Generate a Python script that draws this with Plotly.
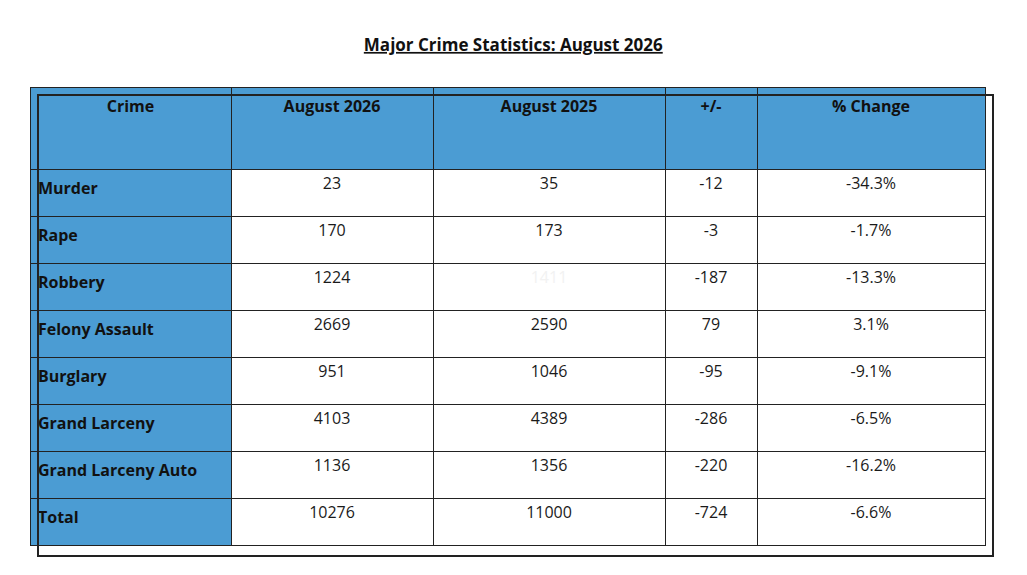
import plotly.graph_objects as go

headers = ["Crime", "August 2026", "August 2025", "+/-", "% Change"]
crimes = ["Murder", "Rape", "Robbery", "Felony Assault", "Burglary",
          "Grand Larceny", "Grand Larceny Auto", "Total"]
aug_2026 = [23, 170, 1224, 2669, 951, 4103, 1136, 10276]
aug_2025 = [35, 173, 1411, 2590, 1046, 4389, 1356, 11000]
diff = [-12, -3, -187, 79, -95, -286, -220, -724]
pct = ["-34.3%", "-1.7%", "-13.3%", "3.1%", "-9.1%", "-6.5%", "-16.2%", "-6.6%"]

blue = "#4b9cd3"
font = "Open Sans, Liberation Sans, sans-serif"

# robbery 2025 value is almost invisible in the source
col3_colors = ["#1a1a1a"] * len(crimes)
col3_colors[2] = "#f2f2f2"

# plotly draws the table ~8px right/down of the domain, so compensate
x0, x1 = 22 / 1027, 977 / 1027
y0, y1 = 1 - 540 / 575, 1 - 79 / 575

fig = go.Figure(go.Table(
    domain=dict(x=[x0, x1], y=[y0, y1]),
    columnwidth=[201, 202, 232, 92, 228],
    header=dict(
        values=[f"<br><b>{h}</b>" for h in headers],
        fill_color=blue,
        line=dict(color="#222", width=1),
        align="center",
        height=82,
        font=dict(family=font, size=16, color="#111"),
    ),
    cells=dict(
        values=[[f"<b>{c}</b>" for c in crimes], aug_2026, aug_2025, diff, pct],
        fill_color=[[blue] * len(crimes)] + [["white"] * len(crimes)] * 4,
        line=dict(color="#222", width=1),
        align=["left", "center", "center", "center", "center"],
        height=47,
        font=dict(family=font, size=16,
                  color=[["#111"] * len(crimes), ["#1a1a1a"] * len(crimes),
                         col3_colors, ["#1a1a1a"] * len(crimes), ["#1a1a1a"] * len(crimes)]),
    ),
))

fig.add_shape(type="rect", xref="paper", yref="paper",
              x0=30 / 1027, x1=985 / 1027, y0=1 - 548 / 575, y1=1 - 87 / 575,
              line=dict(color="#222", width=2))

fig.update_layout(
    width=1027, height=575,
    margin=dict(l=0, r=0, t=0, b=0),
    paper_bgcolor="white",
    title=dict(text="<b><u>Major Crime Statistics: August 2026</u></b>",
               x=0.492, xanchor="center", y=1 - 37 / 575, yanchor="middle",
               font=dict(family=font, size=17, color="#111")),
)

fig.write_html("out.html")
